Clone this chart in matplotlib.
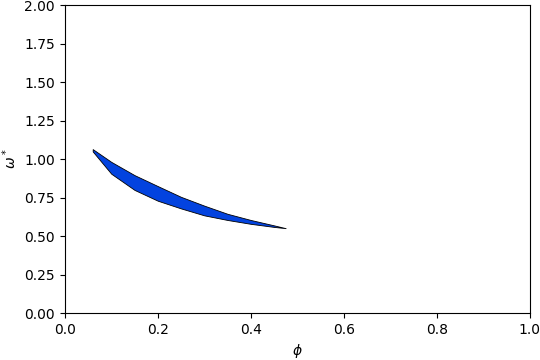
import numpy as np
import matplotlib
matplotlib.use('Agg')
import matplotlib.pyplot as plt

phi = [0.06, 0.10, 0.15, 0.20, 0.25, 0.30, 0.35, 0.40, 0.45, 0.475]
omega_upper = [1.065, 0.982, 0.896, 0.825, 0.755, 0.698, 0.645, 0.605, 0.570, 0.552]
omega_lower = [1.050, 0.905, 0.800, 0.730, 0.680, 0.635, 0.605, 0.580, 0.560, 0.552]

fig, ax = plt.subplots(figsize=(5.4, 3.6), dpi=100)
ax.fill_between(phi, omega_lower, omega_upper, facecolor='#0343df',
                edgecolor='black', linewidth=0.6)
ax.set_xlim(0, 1)
ax.set_ylim(0, 2)
ax.set_xlabel(r'$\phi$')
ax.set_ylabel(r'$\omega^*$')
fig.subplots_adjust(left=0.12, right=0.981, bottom=0.13, top=0.986)
fig.savefig('out.png')
